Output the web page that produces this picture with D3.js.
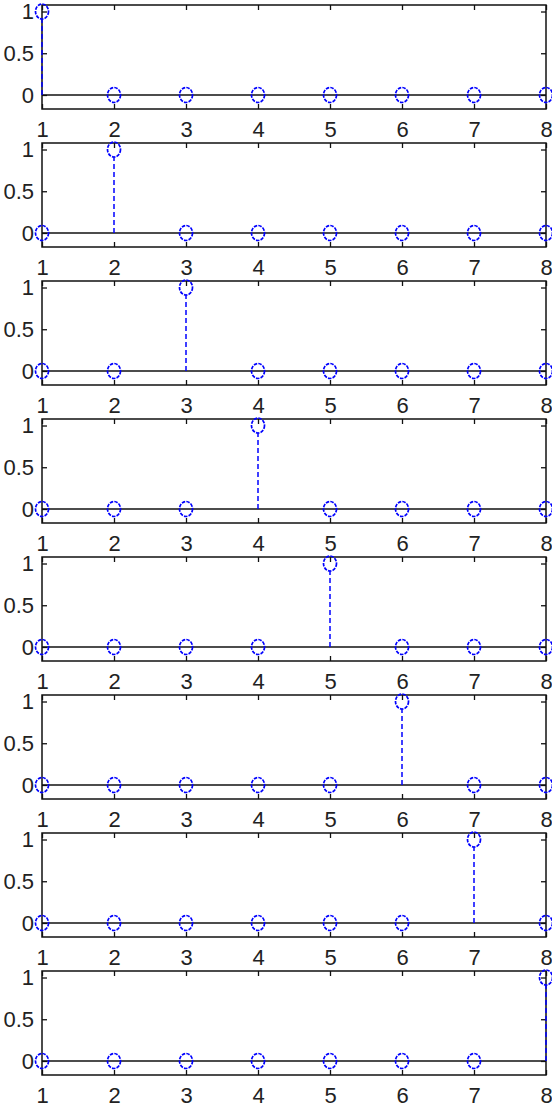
<!DOCTYPE html>
<html>
<head>
<meta charset="utf-8">
<script src="https://cdn.jsdelivr.net/npm/d3@7"></script>
<style>
  html, body { margin: 0; padding: 0; background: #fff; }
  svg { display: block; }
  .tick text { font-family: "Liberation Sans", Arial, sans-serif; fill: #222; }
</style>
</head>
<body>
<div class="chart"></div>
<script>
const xValues = [1, 2, 3, 4, 5, 6, 7, 8];
const xTicks = [1, 2, 3, 4, 5, 6, 7, 8];
const yTicks = [0, 0.5, 1];
const yTickLabels = ["0", "0.5", "1"];

// one impulse per panel
const panel1 = [1, 0, 0, 0, 0, 0, 0, 0];
const panel2 = [0, 1, 0, 0, 0, 0, 0, 0];
const panel3 = [0, 0, 1, 0, 0, 0, 0, 0];
const panel4 = [0, 0, 0, 1, 0, 0, 0, 0];
const panel5 = [0, 0, 0, 0, 1, 0, 0, 0];
const panel6 = [0, 0, 0, 0, 0, 1, 0, 0];
const panel7 = [0, 0, 0, 0, 0, 0, 1, 0];
const panel8 = [0, 0, 0, 0, 0, 0, 0, 1];
const panels = [panel1, panel2, panel3, panel4, panel5, panel6, panel7, panel8];

const width = 552;
const height = 1108;
const margin = {left: 42, right: 6, top: 5};
const panelHeight = 104;
const panelStep = 138;
const innerWidth = width - margin.left - margin.right;

const svg = d3.select("div.chart").append("svg")
  .attr("width", width)
  .attr("height", height);

const xScale = d3.scaleLinear()
  .domain([1, 8])
  .range([0, innerWidth]);
const yScale = d3.scaleLinear()
  .domain([-0.168, 1.078])
  .range([panelHeight, 0]);

const blue = "#0000ff";
const rx = 6.5, ry = 7.5;

panels.forEach((values, i) => {
  const g = svg.append("g")
    .attr("transform", `translate(${margin.left}, ${margin.top + i * panelStep})`);

  const xAxisBottom = d3.axisBottom(xScale).tickValues(xTicks).tickSize(-5).tickPadding(12)
    .tickFormat(d3.format("d"));
  const xAxisTop = d3.axisTop(xScale).tickValues(xTicks).tickSize(-5).tickFormat("");
  const yAxisLeft = d3.axisLeft(yScale).tickValues(yTicks).tickSize(-5).tickPadding(8)
    .tickFormat((d, k) => yTickLabels[k]);
  const yAxisRight = d3.axisRight(yScale).tickValues(yTicks).tickSize(-5).tickFormat("");

  g.append("g").attr("transform", `translate(0, ${panelHeight})`).call(xAxisBottom);
  g.append("g").call(xAxisTop);
  g.append("g").call(yAxisLeft);
  g.append("g").attr("transform", `translate(${innerWidth}, 0)`).call(yAxisRight);

  g.selectAll(".domain").remove();
  g.selectAll(".tick line").attr("stroke", "#111").attr("stroke-width", 1.3);
  g.selectAll(".tick text").attr("font-size", 22).attr("fill", "#2a2a2a");

  g.append("rect")
    .attr("x", 0).attr("y", 0)
    .attr("width", innerWidth).attr("height", panelHeight)
    .attr("fill", "none").attr("stroke", "#111").attr("stroke-width", 1.5);

  // baseline
  g.append("line")
    .attr("x1", xScale(1)).attr("x2", xScale(8))
    .attr("y1", yScale(0)).attr("y2", yScale(0))
    .attr("stroke", "#111").attr("stroke-width", 1.5);

  const data = xValues.map((x, k) => ({x, y: values[k]}));

  g.selectAll("line.stem").data(data.filter((d) => d.y !== 0)).enter()
    .append("line")
    .attr("class", "stem")
    .attr("x1", (d) => xScale(d.x)).attr("x2", (d) => xScale(d.x))
    .attr("y1", yScale(0)).attr("y2", (d) => yScale(d.y) + ry)
    .attr("stroke", blue).attr("stroke-width", 1.5)
    .attr("stroke-dasharray", "5,3");

  g.selectAll("ellipse.marker").data(data).enter()
    .append("ellipse")
    .attr("class", "marker")
    .attr("cx", (d) => xScale(d.x)).attr("cy", (d) => yScale(d.y))
    .attr("rx", rx).attr("ry", ry)
    .attr("fill", "none").attr("stroke", blue).attr("stroke-width", 1.7)
    .attr("stroke-dasharray", "3.5,1.2");
});
</script>
</body>
</html>
